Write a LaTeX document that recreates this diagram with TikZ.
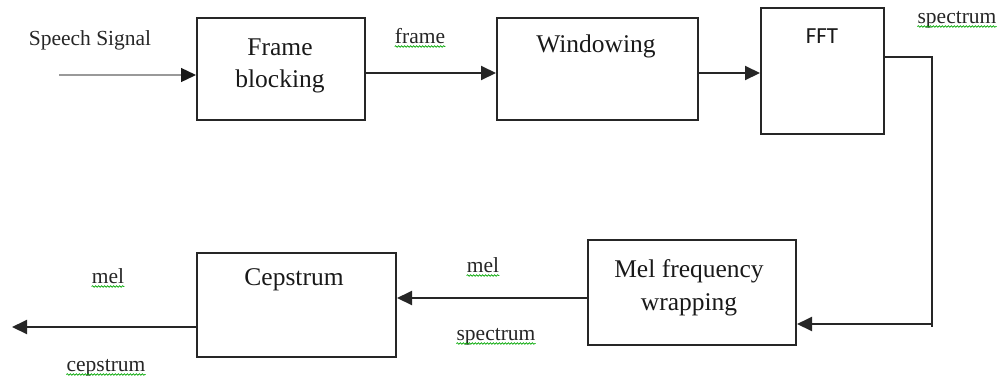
\documentclass[tikz,border=0pt]{standalone}
\usepackage{fontspec}
\setmainfont{Liberation Serif}
\newfontfamily\califont{Carlito}
\usetikzlibrary{arrows.meta,decorations.pathmorphing}
\begin{document}
\begin{tikzpicture}[x=1pt,y=-1pt,
  blk/.style={draw=black!85,line width=2pt,inner sep=0pt,anchor=north west},
  boxtxt/.style={inner sep=0pt,anchor=base,font=\fontsize{25.5}{30}\selectfont,text=black!90},
  lbl/.style={inner sep=0pt,anchor=base,font=\fontsize{21.5}{26}\selectfont,text=black!85},
  arr/.style={draw=black!85,line width=2pt,-{Triangle[length=15pt,width=14pt]}},
  inarr/.style={draw=black!40,line width=1.3pt,-{Triangle[length=15pt,width=14pt,color=black!90]}},
  conn/.style={draw=black!85,line width=2pt},
  wavy/.style={draw=green!65!black,line width=0.7pt,decorate,decoration={snake,amplitude=0.8pt,segment length=3pt}}
]
\useasboundingbox (0,0) rectangle (1000,381);
% boxes
\node[blk,minimum width=168pt,minimum height=102pt] (fb) at (196,17) {};
\node[blk,minimum width=201pt,minimum height=102pt] (win) at (496,17) {};
\node[blk,minimum width=123pt,minimum height=126pt] (fft) at (760,7) {};
\node[blk,minimum width=208pt,minimum height=105pt] (mel) at (587,239) {};
\node[blk,minimum width=199pt,minimum height=104pt] (cep) at (196,252) {};
% box texts
\node[boxtxt] (fbt1) at (280,55) {Frame};
\node[boxtxt] (fbt2) at (280,87) {blocking};
\node[boxtxt] (wint) at (596,52) {Windowing};
\node[boxtxt,font=\fontsize{23}{27}\califont] (fftt) at (822,43) {FFT};
\node[boxtxt] (melt1) at (689,277) {Mel frequency};
\node[boxtxt] (melt2) at (689,310) {wrapping};
\node[boxtxt] (cept) at (294,285) {Cepstrum};
% labels
\node[lbl] (sp) at (90,45) {Speech Signal};
\node[lbl] (fr) at (420,43) {frame};
\node[lbl] (spec1) at (957,23) {spectrum};
\node[lbl] (mel1) at (483,272) {mel};
\node[lbl] (spec2) at (496,340) {spectrum};
\node[lbl] (mel2) at (108,283) {mel};
\node[lbl] (ceps) at (106,371) {cepstrum};
\foreach \n in {fr,spec1,mel1,spec2,mel2,ceps}
  \draw[wavy] ([yshift=-3.5pt]\n.base west) -- ([yshift=-3.5pt]\n.base east);
% connectors
\coordinate (in) at (59,75);
\draw[inarr] (in) -- (fb.west |- in);
\coordinate (a1) at (364,73);
\draw[arr] (fb.east |- a1) -- (win.west |- a1);
\draw[arr] (win.east |- a1) -- (fft.west |- a1);
\coordinate (c1) at (932,57);
\coordinate (c2) at (932,327);
\coordinate (c3) at (932,324);
\draw[conn] (fft.east |- c1) -- (c1) -- (c2);
\draw[arr] (c3) -- (mel.east |- c3);
\coordinate (a2) at (587,298);
\draw[arr] (mel.west |- a2) -- (cep.east |- a2);
\coordinate (out) at (12,327);
\draw[arr] (cep.west |- out) -- (out);
\end{tikzpicture}
\end{document}
